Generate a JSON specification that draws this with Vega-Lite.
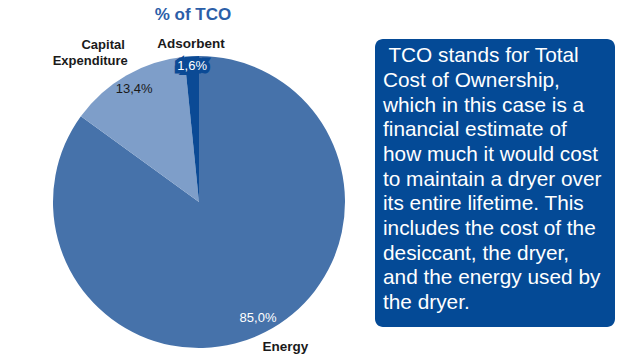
{
  "$schema": "https://vega.github.io/schema/vega-lite/v6.json",
  "padding": {"top": 6, "left": 0, "right": 0, "bottom": 0},
  "background": "white",
  "spacing": 5,
  "bounds": "flush",
  "config": {"view": {"stroke": null}, "font": "Liberation Sans"},
  "hconcat": [
    {
      "width": 370,
      "height": 316,
      "title": {"text": "% of TCO", "frame": "group", "fontSize": 17, "font": "Liberation Sans", "fontWeight": "bold", "color": "#2b5ea8", "offset": -8, "dx": 8},
      "data": {"values": [
        {"cat": "Energy", "pct": 85.0, "label": "85,0%", "line1": "Energy", "line2": "", "order": 1},
        {"cat": "Capital Expenditure", "pct": 13.4, "label": "13,4%", "line1": "Capital", "line2": "Expenditure", "order": 2},
        {"cat": "Adsorbent", "pct": 1.6, "label": "1,6%", "line1": "Adsorbent", "line2": "", "order": 3}
      ]},
      "encoding": {
        "theta": {"field": "pct", "type": "quantitative", "stack": true},
        "order": {"field": "order", "type": "quantitative"},
        "detail": {"field": "cat", "type": "nominal"}
      },
      "layer": [
        {
          "mark": {"type": "arc", "outerRadius": 146, "x": {"expr": "concat_0_width/2+14"}, "y": {"expr": "concat_0_height/2+5"}},
          "encoding": {
            "color": {"field": "cat", "type": "nominal", "legend": null,
              "scale": {"domain": ["Energy", "Capital Expenditure", "Adsorbent"], "range": ["#4672aa", "#7e9ec9", "#0b4a95"]}}
          }
        },
        {
          "mark": {"type": "text", "radius": 130, "fontSize": 13, "x": {"expr": "concat_0_width/2+14"}, "y": {"expr": "concat_0_height/2+5"}, "baseline": "middle", "align": "center"},
          "encoding": {
            "text": {"condition": {"test": "datum.cat !== 'Adsorbent'", "field": "label"}, "value": ""},
            "color": {"condition": {"test": "datum.cat === 'Capital Expenditure'", "value": "#1a1a1a"}, "value": "#ffffff"}
          }
        },
        {
          "mark": {"type": "text", "radius": 136, "fontSize": 13, "x": {"expr": "concat_0_width/2+14"}, "y": {"expr": "concat_0_height/2+5"}, "baseline": "middle", "align": "center", "color": "#0b4a95", "stroke": "#0b4a95", "strokeWidth": 7, "strokeJoin": "miter"},
          "encoding": {
            "text": {"condition": {"test": "datum.cat === 'Adsorbent'", "field": "label"}, "value": ""}
          }
        },
        {
          "mark": {"type": "text", "radius": 136, "fontSize": 13, "x": {"expr": "concat_0_width/2+14"}, "y": {"expr": "concat_0_height/2+5"}, "baseline": "middle", "align": "center", "color": "#ffffff"},
          "encoding": {
            "text": {"condition": {"test": "datum.cat === 'Adsorbent'", "field": "label"}, "value": ""}
          }
        },
        {
          "mark": {"type": "text", "radius": 158, "fontSize": 13.5, "fontWeight": "bold", "x": {"expr": "concat_0_width/2+14"}, "y": {"expr": "concat_0_height/2+5"}, "baseline": "middle", "align": "center", "color": "#1a1a1a"},
          "encoding": {
            "text": {"condition": {"test": "datum.cat === 'Adsorbent'", "field": "line1"}, "value": ""}
          }
        },
        {
          "mark": {"type": "text", "radius": 168, "dx": 10, "dy": -5, "fontSize": 13.5, "fontWeight": "bold", "x": {"expr": "concat_0_width/2+14"}, "y": {"expr": "concat_0_height/2+5"}, "baseline": "middle", "align": "center", "color": "#1a1a1a"},
          "encoding": {
            "text": {"condition": {"test": "datum.cat === 'Energy'", "field": "line1"}, "value": ""}
          }
        },
        {
          "mark": {"type": "text", "radius": 175, "dx": 13, "dy": -5, "fontSize": 13, "fontWeight": "bold", "x": {"expr": "concat_0_width/2+14"}, "y": {"expr": "concat_0_height/2+5"}, "baseline": "middle", "align": "right", "color": "#1a1a1a"},
          "encoding": {
            "text": {"condition": {"test": "datum.cat === 'Capital Expenditure'", "field": "line1"}, "value": ""}
          }
        },
        {
          "mark": {"type": "text", "radius": 175, "dx": 16, "dy": 11, "fontSize": 13, "fontWeight": "bold", "x": {"expr": "concat_0_width/2+14"}, "y": {"expr": "concat_0_height/2+5"}, "baseline": "middle", "align": "right", "color": "#1a1a1a"},
          "encoding": {
            "text": {"condition": {"test": "datum.cat === 'Capital Expenditure'", "field": "line2"}, "value": ""}
          }
        }
      ]
    },
    {
      "width": 240,
      "height": 288,
      "view": {"fill": "#044a96", "cornerRadius": 8, "stroke": null},
      "data": {"values": [
        {"n": 1, "line": "\u200b TCO stands for Total"},
        {"n": 2, "line": "Cost of Ownership,"},
        {"n": 3, "line": "which in this case is a"},
        {"n": 4, "line": "financial estimate of"},
        {"n": 5, "line": "how much it would cost"},
        {"n": 6, "line": "to maintain a dryer over"},
        {"n": 7, "line": "its entire lifetime. This"},
        {"n": 8, "line": "includes the cost of the"},
        {"n": 9, "line": "desiccant, the dryer,"},
        {"n": 10, "line": "and the energy used by"},
        {"n": 11, "line": "the dryer."}
      ]},
      "mark": {"type": "text", "align": "left", "baseline": "alphabetic", "fontSize": 20.8, "color": "#ffffff", "font": "Liberation Sans"},
      "encoding": {
        "y": {"field": "n", "type": "ordinal", "axis": null, "scale": {"type": "point", "padding": 0.842, "align": 0.566}},
        "x": {"value": 8},
        "text": {"field": "line", "type": "nominal"}
      }
    }
  ]
}
